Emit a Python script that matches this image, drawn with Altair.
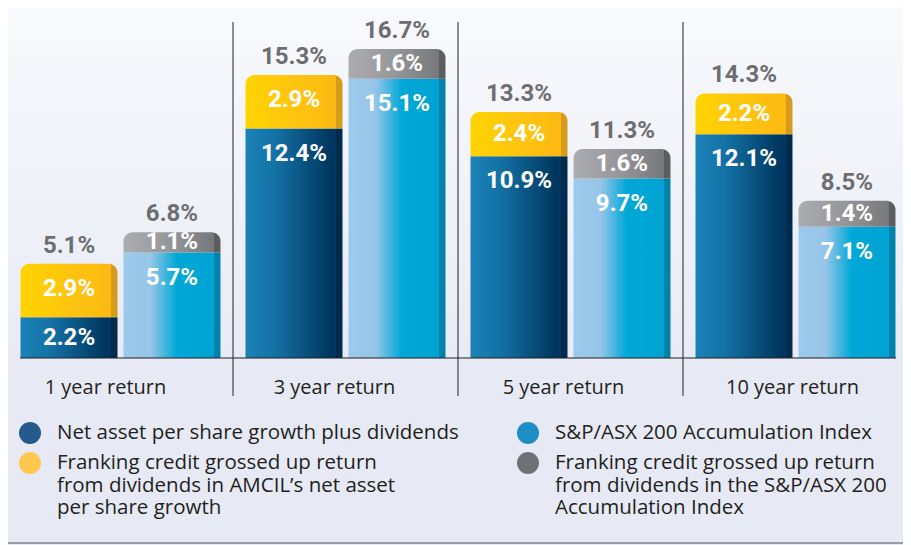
import altair as alt
import pandas as pd

groups = ["1 year return", "3 year return", "5 year return", "10 year return"]
series = ["NTA", "Index"]
nta_base = [2.2, 12.4, 10.9, 12.1]
nta_frank = [2.9, 2.9, 2.4, 2.2]
nta_total = [5.1, 15.3, 13.3, 14.3]
idx_base = [5.7, 15.1, 9.7, 7.1]
idx_frank = [1.1, 1.6, 1.6, 1.4]
idx_total = [6.8, 16.7, 11.3, 8.5]

legend_left = ["Net asset per share growth plus dividends",
               "Franking credit grossed up return|from dividends in AMCIL\u2019s net asset|per share growth"]
legend_right = ["S&P/ASX 200 Accumulation Index",
                "Franking credit grossed up return|from dividends in the S&P/ASX 200|Accumulation Index"]

rows = []
for i, g in enumerate(groups):
    for s, base, frank, tot in (("NTA", nta_base, nta_frank, nta_total),
                                ("Index", idx_base, idx_frank, idx_total)):
        rows.append(dict(group=g, series=s, part="base", lo=0.0, hi=base[i],
                         label=f"{base[i]:.1f}%", total=""))
        rows.append(dict(group=g, series=s, part="frank", lo=base[i], hi=base[i] + frank[i],
                         label=f"{frank[i]:.1f}%", total=f"{tot[i]:.1f}%"))
df = pd.DataFrame(rows)


def grad(stops):
    return alt.Gradient(gradient="linear", x1=0, x2=1, y1=0, y2=0,
                        stops=[alt.GradientStop(offset=o, color=c) for o, c in stops])


g_nta = grad([(0, "#1b82b8"), (0.3, "#1472a6"), (0.88, "#00365f"), (0.93, "#00365f"), (0.935, "#002b4d"), (1, "#002b4d")])
g_yel = grad([(0, "#ffd400"), (0.5, "#fec40f"), (0.93, "#fdb913"), (0.935, "#d49c1a"), (1, "#d49c1a")])
g_idx = grad([(0, "#9ccaeb"), (0.28, "#96c5e8"), (0.55, "#00a8d7"), (0.93, "#00a3d2"), (0.935, "#0083ab"), (1, "#0083ab")])
g_gry = grad([(0, "#abadb0"), (0.5, "#939598"), (0.93, "#77787b"), (0.935, "#5c5d60"), (1, "#5c5d60")])
g_bg = alt.Gradient(gradient="linear", x1=0, x2=0, y1=0, y2=1,
                    stops=[alt.GradientStop(offset=0, color="#f9fafd"),
                           alt.GradientStop(offset=1, color="#e8ebf5")])

xs = alt.Scale(domain=groups, paddingInner=0, paddingOuter=0, range=[0, 900])
xo = alt.Scale(domain=series, paddingInner=0.0583, paddingOuter=0.1214)
ys = alt.Scale(domain=[0, 18.92], nice=False, zero=True)

label_shift = {"condition": [
    {"test": "datum.value == '1 year return'", "value": -15},
    {"test": "datum.value == '3 year return'", "value": -11},
    {"test": "datum.value == '5 year return'", "value": -7}],
    "value": -3}

X = alt.X("group:N", sort=groups, scale=xs,
          axis=alt.Axis(title=None, labelAngle=0, domain=False, ticks=False, grid=False,
                        labelFont="Open Sans", labelFontSize=20, labelColor="#231f20",
                        labelPadding=19, labelOffset=label_shift))
XO = alt.XOffset("series:N", sort=series, scale=xo)
Y = alt.Y("lo:Q", scale=ys, axis=None)
Y2 = alt.Y2("hi:Q")

base = alt.Chart(df)

bg = base.mark_rect(color=g_bg).encode(
    x=alt.value(0), x2=alt.value(895), y=alt.value(-8), y2=alt.value(350))


def bars(s, part, g, rounded):
    kw = dict(color=g)
    if rounded:
        kw.update(cornerRadiusTopLeft=9, cornerRadiusTopRight=9)
    return base.transform_filter(
        (alt.datum.series == s) & (alt.datum.part == part)
    ).mark_bar(**kw).encode(x=X, xOffset=XO, y=Y, y2=Y2)


b1 = bars("NTA", "base", g_nta, False)
b2 = bars("NTA", "frank", g_yel, True)
b3 = bars("Index", "base", g_idx, False)
b4 = bars("Index", "frank", g_gry, True)

seg_labels = base.transform_calculate(
    ly="max((datum.lo + datum.hi) / 2, datum.hi - 1.35)"
).mark_text(font="Roboto", fontWeight="bold", fontSize=24, color="white",
            baseline="middle").encode(
    x=X, xOffset=XO, y=alt.Y("ly:Q", scale=ys), text="label:N")

tot_labels = base.transform_filter(alt.datum.part == "frank").mark_text(
    font="Roboto", fontWeight="bold", fontSize=24, color="#6d6e71",
    baseline="middle", dy=-18).encode(
    x=X, xOffset=XO, y=alt.Y("hi:Q", scale=ys), text="total:N")

div_df = pd.DataFrame({"group": groups[1:]})
dividers = alt.Chart(div_df).mark_rule(color="#231f20", strokeWidth=1).encode(
    x=alt.X("group:N", sort=groups, scale=xs, bandPosition=0),
    y=alt.value(14), y2=alt.value(388))

baseline = alt.Chart(pd.DataFrame({"v": [0]})).mark_rule(color="#231f20", strokeWidth=1.2).encode(
    y=alt.Y("v:Q", scale=ys), x=alt.value(12), x2=alt.value(888))

bottom = alt.Chart(pd.DataFrame({"v": [0]})).mark_rule(color="#80838a", strokeWidth=1.5).encode(
    y=alt.value(535), x=alt.value(0), x2=alt.value(895))

leg_common = dict(title=None, orient="none", direction="vertical",
                  symbolType="circle", symbolSize=484, symbolStrokeWidth=0,
                  symbolOpacity=1, labelFont="Open Sans", labelFontSize=20.5,
                  labelColor="#231f20", labelLimit=700, labelOffset=16,
                  labelExpr="split(datum.label, '|')", rowPadding=8, padding=0)

legA = alt.Chart(pd.DataFrame({"k": legend_left})).mark_circle(opacity=0).encode(
    color=alt.Color("k:N", sort=legend_left,
                    scale=alt.Scale(domain=legend_left, range=["#245b8c", "#fec74d"]),
                    legend=alt.Legend(legendX=11, legendY=414, **leg_common)))
legB = alt.Chart(pd.DataFrame({"k": legend_right})).mark_circle(opacity=0).encode(
    fill=alt.Fill("k:N", sort=legend_right,
                  scale=alt.Scale(domain=legend_right, range=["#1f8dc6", "#707174"]),
                  legend=alt.Legend(legendX=509, legendY=414, **leg_common)))

chart = alt.layer(bg, b1, b2, b3, b4, seg_labels, tot_labels, dividers, baseline, bottom,
                  legA, legB).resolve_scale(color="independent", fill="independent").properties(
    width=895, height=350,
    autosize=alt.AutoSizeParams(type="none"),
    padding={"left": 0, "top": 0, "right": 0, "bottom": 187},
    background="#e7eaf4",
).configure_view(stroke=None)

chart.save("out.html", embed_options={"renderer": "svg", "actions": False})
